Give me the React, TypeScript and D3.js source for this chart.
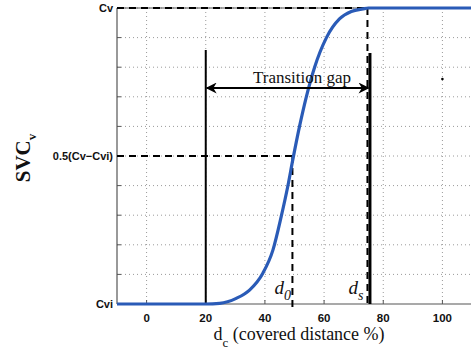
import React from "react";
import * as d3 from "d3";

const curveX = [-10, 20, 24.7, 30.3, 34.8, 39.3, 42.7, 45.5, 47.7, 49.4, 51.7, 54, 56.8, 60.8, 65.2, 69.2, 73.1, 75, 110];
const curveY = [0, 0, 0.002, 0.019, 0.047, 0.104, 0.182, 0.295, 0.396, 0.486, 0.6, 0.7, 0.8, 0.9, 0.963, 0.988, 0.997, 1, 1];
const xTicks = [0, 20, 40, 60, 80, 100];
const yGrid = [0.1, 0.2, 0.3, 0.4, 0.5, 0.6, 0.7, 0.8, 0.9, 1.0];
const yTickLabels = [
  { v: 0, label: "Cvi" },
  { v: 0.5, label: "0.5(Cv\u2212Cvi)" },
  { v: 1, label: "Cv" },
];
const dStart = 20;
const d0 = 49.3;
const ds = 75;
const halfLevel = 0.5;

export default function App() {
  const W = 471, H = 360;
  const x = d3.scaleLinear().domain([-10, 110]).range([117, 472]);
  const y = d3.scaleLinear().domain([0, 1]).range([304, 8]);
  const pts = curveX.map((v, i) => [v, curveY[i]] as [number, number]);
  const line = d3.line<[number, number]>().x(d => x(d[0])).y(d => y(d[1])).curve(d3.curveMonotoneX);
  const grid = "#9a9a9a";
  const arrowY = 88;
  const sans = "'Liberation Sans', Arial, sans-serif";
  const serif = "'Liberation Serif', 'Times New Roman', serif";
  return (
    <svg width={W} height={H} style={{ position: "absolute", left: 0, top: 0, background: "#fff" }}>
      <defs>
        <marker id="ah" viewBox="0 0 10 10" refX="9" refY="5" markerWidth="13" markerHeight="11" markerUnits="userSpaceOnUse" orient="auto-start-reverse">
          <path d="M0,0 L10,5 L0,10 L3,5 Z" fill="#000" />
        </marker>
      </defs>
      {/* grid */}
      {xTicks.map(t => (
        <line key={"gx" + t} x1={x(t)} x2={x(t)} y1={y(1)} y2={y(0)} stroke={grid} strokeWidth={1} strokeDasharray="1,3" />
      ))}
      {yGrid.map(t => (
        <line key={"gy" + t} x1={x(-10)} x2={W} y1={y(t)} y2={y(t)} stroke={grid} strokeWidth={1} strokeDasharray="1,3" />
      ))}
      {/* axes */}
      <line x1={x(-10)} x2={x(-10)} y1={y(1)} y2={y(0)} stroke="#555" strokeWidth={1.2} />
      <line x1={x(-10)} x2={W} y1={y(0)} y2={y(0)} stroke="#555" strokeWidth={1.2} />
      <line x1={x(-10)} x2={W} y1={y(1)} y2={y(1)} stroke="#555" strokeWidth={1} />
      {xTicks.map(t => (
        <line key={"tx" + t} x1={x(t)} x2={x(t)} y1={y(0)} y2={y(0) - 4} stroke="#555" strokeWidth={1} />
      ))}
      {yGrid.map(t => (
        <line key={"ty" + t} x1={x(-10)} x2={x(-10) + 4} y1={y(t)} y2={y(t)} stroke="#555" strokeWidth={1} />
      ))}
      {xTicks.map(t => (
        <text key={"lx" + t} x={x(t)} y={y(0) + 18} textAnchor="middle" fontFamily={sans} fontWeight="bold" fontSize={11.5} fill="#111">{t}</text>
      ))}
      {yTickLabels.map(t => (
        <text key={"ly" + t.v} x={x(-10) - 4} y={y(t.v) + 4} textAnchor="end" fontFamily={sans} fontWeight="bold" fontSize={11} fill="#111">{t.label}</text>
      ))}
      {/* dashed reference lines */}
      <line x1={x(-10)} x2={x(ds)} y1={y(1)} y2={y(1)} stroke="#000" strokeWidth={2} strokeDasharray="7,5" />
      <line x1={x(-10)} x2={x(d0)} y1={y(halfLevel)} y2={y(halfLevel)} stroke="#000" strokeWidth={2} strokeDasharray="7,5" />
      <line x1={x(d0)} x2={x(d0)} y1={y(halfLevel)} y2={y(0) + 6} stroke="#000" strokeWidth={2} strokeDasharray="7,5" />
      <line x1={x(ds) - 1} x2={x(ds) - 1} y1={y(1)} y2={y(0)} stroke="#000" strokeWidth={2} strokeDasharray="7,5" />
      {/* solid verticals */}
      <line x1={x(dStart)} x2={x(dStart)} y1={50} y2={y(0)} stroke="#000" strokeWidth={2} />
      <line x1={x(ds) + 1.5} x2={x(ds) + 1.5} y1={53} y2={y(0)} stroke="#000" strokeWidth={3} />
      {/* curve */}
      <path d={line(pts) || ""} fill="none" stroke="#2a5bb7" strokeWidth={3.2} />
      {/* arrow */}
      <line x1={x(dStart) + 1} x2={x(ds)} y1={arrowY} y2={arrowY} stroke="#000" strokeWidth={2} markerStart="url(#ah)" markerEnd="url(#ah)" />
      <text x={302} y={83} textAnchor="middle" fontFamily={serif} fontSize={17} fill="#111">Transition gap</text>
      {/* stray dot */}
      <circle cx={x(100)} cy={79} r={1.3} fill="#000" />
      {/* d0 / ds labels */}
      <text x={x(d0) - 18} y={294} fontFamily={serif} fontStyle="italic" fontSize={19} fill="#111">d<tspan dy={6} fontSize={14}>0</tspan></text>
      <text x={x(ds) - 20} y={294} fontFamily={serif} fontStyle="italic" fontSize={19} fill="#111">d<tspan dy={6} fontSize={14}>s</tspan></text>
      {/* axis titles */}
      <text x={299} y={340} textAnchor="middle" fontFamily={serif} fontSize={18} fill="#111">d<tspan dy={7} fontSize={13}>c</tspan><tspan dy={-7}> (covered distance %)</tspan></text>
      <text transform={`translate(30,158) rotate(-90)`} textAnchor="middle" fontFamily={serif} fontWeight="bold" fontSize={21} fill="#111">SVC<tspan dy={6} fontSize={13}>v</tspan></text>
    </svg>
  );
}
